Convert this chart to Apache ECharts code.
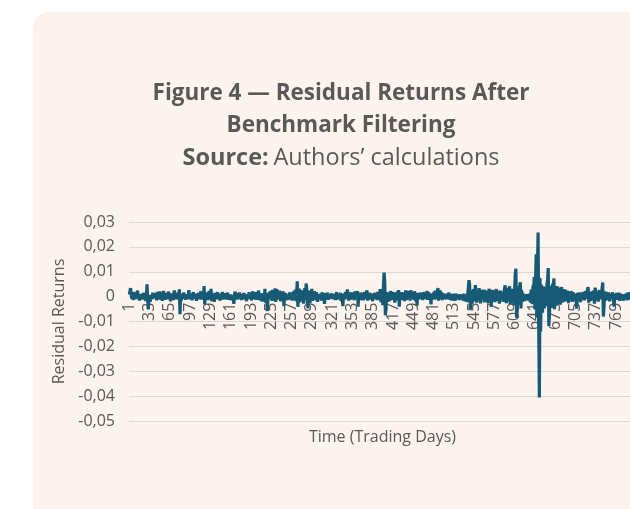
<!DOCTYPE html>
<html>
<head>
<meta charset="utf-8">
<script src="https://cdn.jsdelivr.net/npm/echarts@6/dist/echarts.min.js"></script>
<style>
  html, body { margin: 0; padding: 0; background: #ffffff; overflow: hidden; width: 630px; height: 509px; }
  #card { position: absolute; left: 33px; top: 12px; width: 700px; height: 600px; border-radius: 16px; background: #fcf3ee; }
  #chart { position: absolute; left: 0; top: 0; width: 682px; height: 509px; }
</style>
</head>
<body>
<div id="card"></div>
<div id="chart"></div>
<script>
// residual returns per trading day
var residuals = [
  0.0008, 0.0021, 0.0034, 0.0012, -0.0009, 0.0005, -0.0014, 0.0018, 0.0006, -0.0011, 0.0009, -0.0004, 0.0013, 0.0024, -0.0007, 0.0002, -0.0016, 0.0011, 0.0004, -0.0008,
  0.0007, -0.0012, 0.0015, 0.0003, -0.0006, 0.0010, -0.0018, 0.0009, 0.0049, -0.0013, -0.0051, 0.0006, 0.0012, -0.0021, 0.0004, 0.0008, -0.0010, 0.0016, -0.0005, 0.0011,
  -0.0007, 0.0014, 0.0002, -0.0015, 0.0019, -0.0003, 0.0008, -0.0012, 0.0021, 0.0005, -0.0009, 0.0012, -0.0017, 0.0006, 0.0023, -0.0004, 0.0010, -0.0013, 0.0003, 0.0015,
  -0.0008, 0.0006, 0.0020, -0.0011, 0.0004, -0.0019, 0.0013, 0.0007, -0.0005, 0.0011, -0.0014, 0.0025, 0.0002, -0.0009, 0.0016, -0.0003, 0.0008, -0.0012, 0.0005, 0.0029,
  -0.0071, 0.0009, -0.0016, 0.0012, 0.0004, -0.0008, 0.0017, -0.0002, 0.0010, -0.0013, 0.0006, 0.0014, -0.0007, 0.0003, 0.0026, -0.0011, 0.0008, -0.0004, 0.0012, -0.0015,
  0.0005, 0.0018, -0.0009, 0.0011, -0.0003, 0.0007, -0.0017, 0.0013, 0.0002, -0.0010, 0.0016, -0.0006, 0.0009, 0.0021, -0.0012, 0.0004, 0.0015, -0.0008, 0.0042, -0.0031,
  0.0010, -0.0005, 0.0017, 0.0003, -0.0014, 0.0008, 0.0022, -0.0010, 0.0006, 0.0031, -0.0018, 0.0012, -0.0004, 0.0009, -0.0021, 0.0015, 0.0001, -0.0011, 0.0007, 0.0018,
  -0.0009, 0.0004, 0.0013, -0.0016, 0.0006, 0.0010, -0.0003, 0.0019, -0.0012, 0.0005, 0.0008, -0.0007, 0.0014, -0.0010, 0.0002, 0.0016, -0.0013, 0.0007, 0.0011, -0.0006,
  0.0009, -0.0015, 0.0004, 0.0012, -0.0008, -0.0029, 0.0010, 0.0020, -0.0005, 0.0007, -0.0012, 0.0014, 0.0003, -0.0009, 0.0017, -0.0004, 0.0008, -0.0014, 0.0011, 0.0002,
  -0.0007, 0.0015, -0.0011, 0.0006, 0.0013, -0.0018, 0.0009, 0.0004, -0.0006, 0.0018, -0.0010, 0.0012, 0.0005, -0.0015, 0.0010, 0.0021, -0.0008, 0.0003, 0.0014, -0.0012,
  0.0018, 0.0007, -0.0013, 0.0011, 0.0024, -0.0009, 0.0005, -0.0016, 0.0013, 0.0002, -0.0020, 0.0009, 0.0016, -0.0011, 0.0031, -0.0024, 0.0006, 0.0012, -0.0058, 0.0014,
  -0.0010, 0.0019, -0.0006, 0.0023, 0.0008, -0.0017, 0.0027, 0.0034, -0.0015, 0.0011, 0.0033, -0.0021, 0.0009, 0.0030, -0.0012, 0.0018, -0.0008, 0.0024, 0.0005, -0.0019,
  0.0014, -0.0010, 0.0021, 0.0007, -0.0038, 0.0016, -0.0005, 0.0012, 0.0019, -0.0014, 0.0008, 0.0003, -0.0011, 0.0017, 0.0022, -0.0009, 0.0013, -0.0016, 0.0006, 0.0020,
  -0.0012, 0.0015, 0.0027, -0.0018, 0.0009, 0.0062, -0.0041, 0.0018, 0.0032, -0.0023, 0.0011, 0.0026, -0.0015, 0.0007, 0.0021, -0.0028, 0.0014, 0.0034, -0.0013, 0.0053,
  0.0029, -0.0019, -0.0047, 0.0024, 0.0012, -0.0026, 0.0019, 0.0008, 0.0031, -0.0017, 0.0014, -0.0009, 0.0022, 0.0006, -0.0014, 0.0018, 0.0011, -0.0021, 0.0009, 0.0015,
  -0.0008, 0.0012, 0.0004, -0.0015, 0.0017, 0.0007, -0.0011, 0.0010, -0.0029, 0.0014, 0.0002, -0.0009, 0.0016, 0.0006, -0.0013, 0.0011, 0.0019, -0.0007, 0.0003, 0.0013,
  -0.0010, 0.0008, 0.0016, -0.0005, 0.0011, -0.0014, 0.0004, 0.0018, -0.0012, 0.0007, 0.0013, -0.0008, 0.0002, 0.0015, -0.0017, 0.0009, 0.0005, -0.0038, 0.0012, 0.0006,
  -0.0011, 0.0019, 0.0008, -0.0006, 0.0029, 0.0014, -0.0016, 0.0010, 0.0003, -0.0012, 0.0017, 0.0006, -0.0009, 0.0013, 0.0001, -0.0014, 0.0021, 0.0008, -0.0005, 0.0011,
  0.0022, -0.0040, 0.0012, 0.0005, -0.0013, 0.0016, 0.0009, -0.0007, 0.0014, -0.0015, 0.0004, 0.0018, -0.0010, 0.0007, 0.0012, 0.0025, -0.0016, 0.0009, -0.0004, 0.0015,
  0.0006, -0.0012, 0.0011, 0.0003, -0.0018, 0.0013, 0.0008, -0.0009, 0.0016, -0.0005, 0.0010, -0.0014, 0.0019, 0.0007, -0.0011, 0.0014, 0.0030, -0.0022, 0.0012, 0.0021,
  -0.0034, 0.0045, 0.0097, 0.0060, -0.0075, -0.0048, 0.0018, 0.0026, -0.0021, 0.0015, 0.0009, -0.0017, 0.0022, 0.0011, -0.0013, 0.0019, -0.0008, 0.0014, 0.0006, -0.0024,
  0.0017, 0.0010, -0.0015, 0.0021, 0.0007, 0.0026, -0.0040, 0.0013, -0.0009, 0.0018, 0.0024, -0.0012, 0.0016, 0.0022, -0.0018, 0.0009, 0.0025, -0.0014, 0.0011, 0.0020,
  -0.0010, 0.0023, 0.0008, -0.0016, 0.0025, 0.0013, -0.0007, 0.0019, 0.0004, -0.0013, 0.0021, 0.0010, -0.0019, 0.0015, -0.0036, 0.0012, 0.0020, -0.0011, 0.0007, 0.0016,
  -0.0008, 0.0013, 0.0003, -0.0014, 0.0018, 0.0009, -0.0010, 0.0015, -0.0005, 0.0011, 0.0022, -0.0013, 0.0006, 0.0017, -0.0009, 0.0012, -0.0031, 0.0008, 0.0014, -0.0006,
  0.0010, 0.0019, -0.0012, 0.0024, 0.0015, -0.0008, 0.0021, 0.0034, -0.0016, 0.0011, 0.0026, -0.0010, 0.0018, 0.0006, -0.0014, 0.0013, 0.0020, -0.0007, 0.0009, 0.0015,
  -0.0011, 0.0012, 0.0004, -0.0009, 0.0016, 0.0007, -0.0013, 0.0010, 0.0002, -0.0015, 0.0011, 0.0005, -0.0010, 0.0008, -0.0017, 0.0012, 0.0003, -0.0008, 0.0009, -0.0012,
  0.0006, -0.0014, 0.0010, -0.0006, 0.0003, -0.0011, 0.0008, -0.0016, 0.0012, 0.0004, -0.0019, 0.0007, 0.0015, -0.0022, 0.0011, 0.0038, 0.0066, 0.0048, -0.0050, -0.0035,
  0.0022, -0.0028, 0.0016, 0.0030, -0.0019, 0.0012, 0.0046, 0.0038, -0.0024, 0.0021, 0.0029, -0.0016, 0.0034, 0.0013, -0.0027, 0.0025, 0.0018, -0.0012, 0.0028, 0.0010,
  -0.0023, 0.0026, 0.0014, -0.0018, 0.0022, 0.0009, -0.0026, 0.0019, 0.0031, -0.0015, 0.0024, -0.0040, 0.0012, 0.0027, -0.0020, 0.0016, 0.0008, -0.0022, 0.0018, 0.0030,
  0.0036, -0.0017, 0.0021, 0.0011, -0.0028, 0.0024, 0.0015, -0.0013, 0.0019, 0.0027, -0.0021, 0.0013, 0.0032, 0.0045, 0.0053, -0.0026, 0.0034, 0.0020, -0.0018, 0.0029,
  0.0041, -0.0030, 0.0023, 0.0016, -0.0024, 0.0031, 0.0019, -0.0035, 0.0026, 0.0090, 0.0112, -0.0085, -0.0062, 0.0038, -0.0033, 0.0024, 0.0043, 0.0058, -0.0048, 0.0027,
  -0.0021, 0.0015, -0.0012, 0.0008, -0.0018, 0.0006, -0.0014, 0.0010, -0.0009, 0.0004, -0.0016, 0.0012, 0.0019, -0.0024, 0.0028, 0.0035, -0.0030, 0.0045, 0.0032, 0.0079,
  -0.0052, 0.0063, 0.0170, -0.0085, 0.0110, 0.0258, -0.0120, -0.0405, 0.0075, -0.0140, 0.0048, 0.0032, -0.0065, 0.0041, 0.0026, -0.0048, 0.0037, 0.0022, -0.0038, 0.0050,
  0.0068, 0.0115, -0.0118, -0.0072, 0.0044, 0.0030, -0.0046, 0.0025, 0.0052, 0.0038, 0.0073, -0.0051, 0.0027, 0.0043, -0.0035, 0.0019, 0.0040, -0.0028, 0.0034, 0.0021,
  -0.0032, 0.0025, 0.0038, -0.0024, 0.0017, 0.0030, -0.0020, 0.0014, 0.0028, 0.0035, -0.0018, 0.0023, 0.0011, -0.0026, 0.0019, 0.0027, -0.0015, 0.0022, 0.0009, -0.0021,
  0.0018, 0.0024, -0.0016, 0.0012, 0.0020, -0.0019, -0.0048, 0.0015, 0.0008, -0.0013, 0.0017, 0.0010, -0.0022, 0.0014, 0.0005, -0.0011, 0.0019, 0.0007, -0.0015, 0.0012,
  0.0021, -0.0009, 0.0016, 0.0029, 0.0038, -0.0024, 0.0013, 0.0006, -0.0017, 0.0020, 0.0011, -0.0012, 0.0024, 0.0017, -0.0028, 0.0036, 0.0022, -0.0014, 0.0010, 0.0018,
  -0.0020, 0.0015, 0.0026, -0.0011, 0.0019, 0.0008, 0.0034, 0.0057, -0.0080, -0.0042, 0.0021, 0.0013, -0.0016, 0.0018, 0.0007, -0.0012, 0.0016, 0.0004, -0.0019, 0.0011,
  0.0014, -0.0008, 0.0017, 0.0006, -0.0015, -0.0040, 0.0012, 0.0019, -0.0010, 0.0015, 0.0003, -0.0013, 0.0016, 0.0009, -0.0017, 0.0012, 0.0020, -0.0011, 0.0007, 0.0014,
  -0.0016, 0.0010, 0.0018, -0.0009, 0.0013, 0.0005, -0.0014, 0.0017, 0.0008, -0.0012, 0.0015, -0.0006, 0.0011, 0.0019, -0.0013, 0.0007, 0.0014, -0.0010, 0.0012, 0.0005
];
// trading day numbers 1..N
var days = residuals.map(function (v, i) { return String(i + 1); });

var yMin = -0.05, yMax = 0.03;
var textColor = '#595959';
var fontFamily = '"Open Sans", Roboto, sans-serif';

var gridTop = 222, gridBottom = 88, chartH = 509;
// the category axis sits on the zero line, as in the original
var zeroOffset = -(chartH - gridTop - gridBottom) * (0 - yMin) / (yMax - yMin);

var chart = echarts.init(document.getElementById('chart'));
chart.setOption({
  animation: false,
  textStyle: { fontFamily: fontFamily },
  title: [
    {
      text: 'Figure 4 — Residual Returns After',
      left: 'center', top: 77,
      textStyle: { fontSize: 22.5, fontWeight: 'bold', color: textColor, fontFamily: fontFamily }
    },
    {
      text: 'Benchmark Filtering',
      left: 'center', top: 109,
      textStyle: { fontSize: 22.5, fontWeight: 'bold', color: textColor, fontFamily: fontFamily }
    },
    {
      text: '{b|Source:} {n|Authors’ calculations}',
      left: 'center', top: 141,
      textStyle: {
        fontWeight: 'normal',
        rich: {
          b: { fontSize: 23.5, fontWeight: 'bold', color: textColor, fontFamily: fontFamily },
          n: { fontSize: 23.5, fontWeight: 'normal', color: textColor, fontFamily: fontFamily }
        }
      }
    }
  ],
  grid: { left: 129, right: 46, top: gridTop, bottom: gridBottom, containLabel: false, outerBoundsMode: 'none' },
  xAxis: {
    type: 'category',
    data: days,
    boundaryGap: true,
    offset: zeroOffset,
    name: 'Time (Trading Days)',
    nameLocation: 'middle',
    nameGap: 133,
    nameTextStyle: { fontSize: 16, color: textColor },
    axisLine: { onZero: false, lineStyle: { color: '#d9d9d9', width: 1 } },
    axisTick: { show: false },
    axisLabel: { interval: 31, rotate: 90, margin: 6, fontSize: 16, color: textColor }
  },
  yAxis: {
    type: 'value',
    min: yMin,
    max: yMax,
    interval: 0.01,
    name: 'Residual Returns',
    nameLocation: 'middle',
    nameGap: 52,
    nameTextStyle: { fontSize: 16, color: textColor },
    axisLine: { show: false },
    axisTick: { show: false },
    splitLine: { lineStyle: { color: '#d9d9d9', width: 1 } },
    axisLabel: {
      fontSize: 16,
      color: textColor,
      margin: 14,
      formatter: function (v) {
        if (Math.abs(v) < 1e-9) return '0';
        return v.toFixed(2).replace('.', ',');
      }
    }
  },
  series: [
    {
      type: 'line',
      data: residuals,
      showSymbol: false,
      symbol: 'none',
      lineStyle: { color: '#175a76', width: 3.2 },
      itemStyle: { color: '#175a76' }
    }
  ]
});
</script>
</body>
</html>
